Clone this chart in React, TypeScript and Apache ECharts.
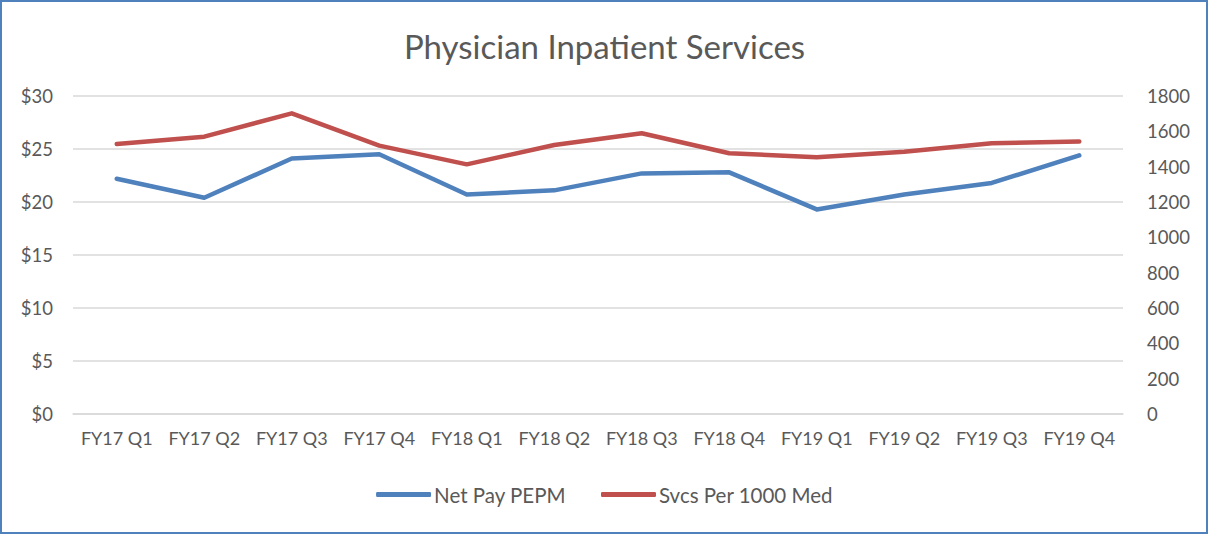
import React, { useEffect, useRef } from "react";
import * as echarts from "echarts";

const categories = [
  "FY17 Q1", "FY17 Q2", "FY17 Q3", "FY17 Q4",
  "FY18 Q1", "FY18 Q2", "FY18 Q3", "FY18 Q4",
  "FY19 Q1", "FY19 Q2", "FY19 Q3", "FY19 Q4",
];
const netPayPEPM = [22.2, 20.4, 24.1, 24.5, 20.7, 21.1, 22.7, 22.8, 19.3, 20.7, 21.8, 24.4];
const svcsPer1000 = [1528, 1570, 1702, 1519, 1413, 1523, 1589, 1476, 1453, 1485, 1532, 1543];

const FONT = "Lato, 'Open Sans', sans-serif";
const TXT = "#595959";

export default function App() {
  const ref = useRef<HTMLDivElement>(null);
  useEffect(() => {
    document.body.style.margin = "0";
    const chart = echarts.init(ref.current!, undefined, { renderer: "svg" });
    chart.setOption({
      animation: false,
      backgroundColor: "#ffffff",
      textStyle: { fontFamily: FONT, color: TXT },
      title: {
        text: "Physician Inpatient Services",
        left: "center",
        top: 24,
        textStyle: { fontFamily: FONT, fontSize: 33, fontWeight: "normal", color: TXT },
      },
      graphic: [
        {
          type: "rect",
          shape: { x: 1, y: 1, width: 1206, height: 532 },
          style: { fill: "none", stroke: "#4F81BD", lineWidth: 2 },
          silent: true,
        },
      ],
      legend: {
        bottom: 25,
        left: "center",
        itemWidth: 55,
        itemHeight: 5,
        itemGap: 35,
        icon: "roundRect",
        textStyle: { fontFamily: FONT, fontSize: 20.5, color: TXT, padding: [0, 0, 0, -2] },
        data: ["Net Pay PEPM", "Svcs Per 1000 Med"],
      },
      grid: { left: 73, right: 86, top: 96, bottom: 121, containLabel: false },
      xAxis: {
        type: "category",
        data: categories,
        boundaryGap: true,
        axisLine: { show: true, lineStyle: { color: "#D9D9D9", width: 1.5 } },
        axisTick: { show: false },
        axisLabel: { fontFamily: FONT, fontSize: 18, color: TXT, margin: 15, interval: 0 },
      },
      yAxis: [
        {
          type: "value",
          min: 0,
          max: 30,
          interval: 5,
          axisLine: { show: false },
          axisTick: { show: false },
          splitLine: { lineStyle: { color: "#D9D9D9", width: 1.5 } },
          axisLabel: { fontFamily: FONT, fontSize: 18.5, color: TXT, margin: 20, formatter: "${value}" },
        },
        {
          type: "value",
          min: 0,
          max: 1800,
          interval: 200,
          position: "right",
          axisLine: { show: false },
          axisTick: { show: false },
          splitLine: { show: false },
          axisLabel: {
            fontFamily: FONT,
            fontSize: 18.5,
            color: TXT,
            margin: 24,
            formatter: (v: number) => String(v),
          },
        },
      ],
      series: [
        {
          name: "Net Pay PEPM",
          type: "line",
          data: netPayPEPM,
          yAxisIndex: 0,
          symbol: "none",
          itemStyle: { color: "#4F81BD" },
          lineStyle: { color: "#4F81BD", width: 4.5, cap: "round", join: "round" },
        },
        {
          name: "Svcs Per 1000 Med",
          type: "line",
          data: svcsPer1000,
          yAxisIndex: 1,
          symbol: "none",
          itemStyle: { color: "#C0504D" },
          lineStyle: { color: "#C0504D", width: 4.5, cap: "round", join: "round" },
        },
      ],
    });
    return () => chart.dispose();
  }, []);
  return <div ref={ref} style={{ width: 1209, height: 535 }} />;
}
